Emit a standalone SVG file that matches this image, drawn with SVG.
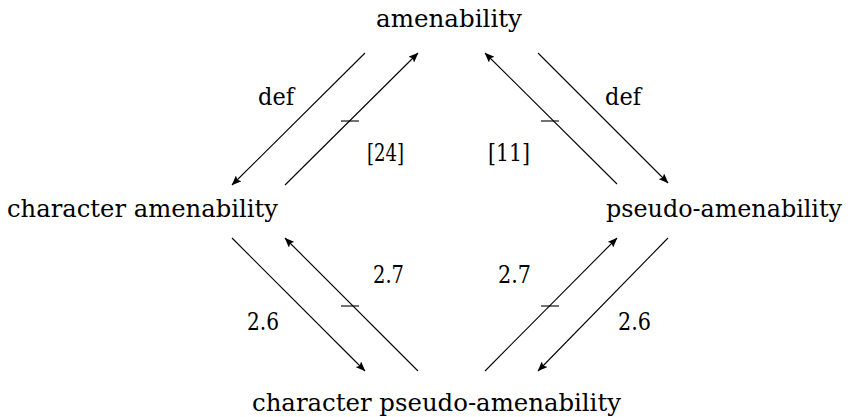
<svg xmlns="http://www.w3.org/2000/svg" width="850" height="417" viewBox="0 0 850 417">
<defs>
<marker id="ah" viewBox="0 0 10 8" refX="9.5" refY="4" markerWidth="10" markerHeight="8" markerUnits="userSpaceOnUse" orient="auto">
<path d="M0,0 L10,4 L0,8 L2,4 Z" fill="#000"/>
</marker>
<style>
.n{font-family:"DejaVu Serif","Liberation Serif",serif;font-size:24px}
.l{font-family:"DejaVu Serif","Liberation Serif",serif;font-size:24px}
.e{stroke:#000;stroke-width:1.1;fill:none}
.a{marker-end:url(#ah)}
</style>
</defs>
<rect width="850" height="417" fill="#fff"/>
<g id="amenability"><text class="n" x="376" y="27" textLength="146" lengthAdjust="spacingAndGlyphs">amenability</text></g>
<g id="character-amenability"><text class="n" x="7" y="217" textLength="271" lengthAdjust="spacingAndGlyphs">character amenability</text></g>
<g id="pseudo-amenability"><text class="n" x="606" y="217" textLength="236" lengthAdjust="spacingAndGlyphs">pseudo-amenability</text></g>
<g id="character-pseudo-amenability"><text class="n" x="252" y="411" textLength="369" lengthAdjust="spacingAndGlyphs">character pseudo-amenability</text></g>
<g id="connectors">
<line class="e a" x1="365" y1="53" x2="232" y2="185"/>
<line class="e a" x1="285" y1="185" x2="418" y2="53"/>
<line class="e" x1="341" y1="121" x2="359" y2="121"/>
<line class="e a" x1="617" y1="184" x2="485" y2="53"/>
<line class="e a" x1="538" y1="53" x2="668" y2="183"/>
<line class="e" x1="541" y1="121" x2="559" y2="121"/>
<line class="e a" x1="232" y1="238" x2="365" y2="371"/>
<line class="e a" x1="418" y1="371" x2="285" y2="238"/>
<line class="e" x1="341" y1="306" x2="359" y2="306"/>
<line class="e a" x1="485" y1="371" x2="617" y2="238"/>
<line class="e a" x1="668" y1="238" x2="538" y2="371"/>
<line class="e" x1="541" y1="306" x2="559" y2="306"/>
<text class="l" x="258" y="105" textLength="36" lengthAdjust="spacingAndGlyphs">def</text>
<text class="l" x="367" y="161" textLength="37" lengthAdjust="spacingAndGlyphs">[24]</text>
<text class="l" x="605" y="105" textLength="36" lengthAdjust="spacingAndGlyphs">def</text>
<text class="l" x="488" y="161" textLength="42" lengthAdjust="spacingAndGlyphs">[11]</text>
<text class="l" x="373" y="283" textLength="31" lengthAdjust="spacingAndGlyphs">2.7</text>
<text class="l" x="247" y="330" textLength="32" lengthAdjust="spacingAndGlyphs">2.6</text>
<text class="l" x="498" y="283" textLength="33" lengthAdjust="spacingAndGlyphs">2.7</text>
<text class="l" x="618" y="330" textLength="33" lengthAdjust="spacingAndGlyphs">2.6</text>
</g>
</svg>
